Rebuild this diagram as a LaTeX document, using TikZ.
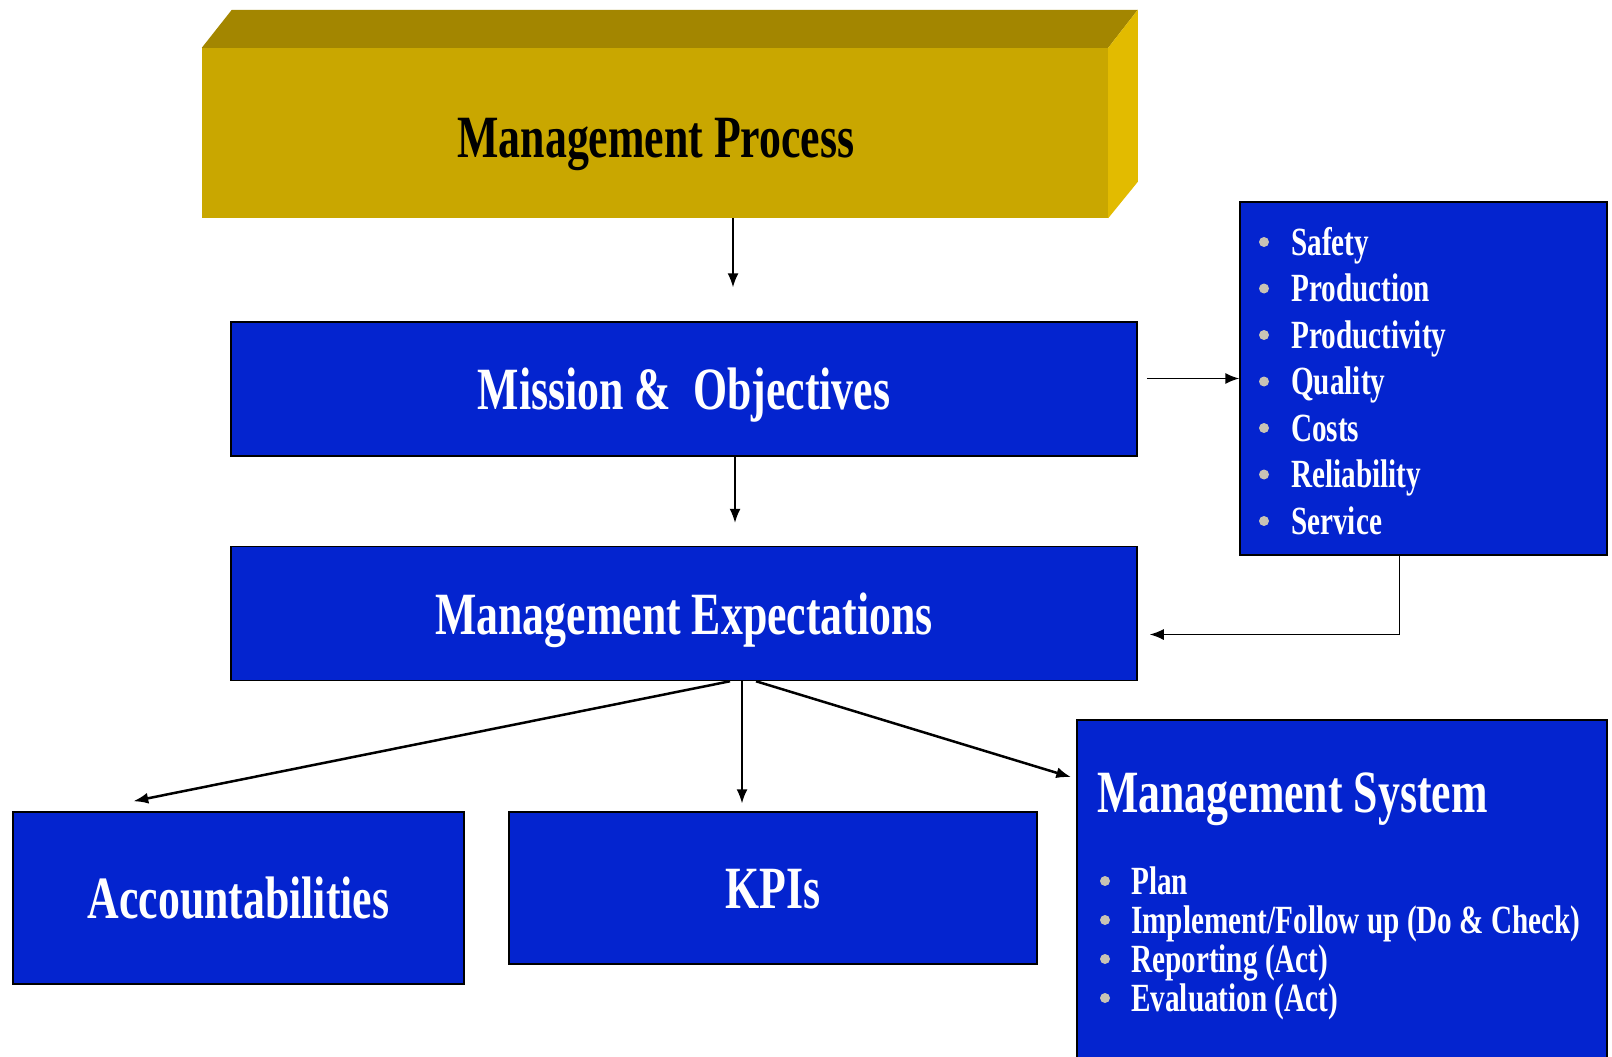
\documentclass[tikz,border=0pt]{standalone}
\usepackage{fontspec}
\usetikzlibrary{arrows.meta,positioning,calc}
\newfontfamily\boxfont[FakeStretch=0.73]{Liberation Serif Bold}

\definecolor{mblue}{RGB}{4,36,207}
\definecolor{goldtop}{RGB}{163,134,0}
\definecolor{goldfront}{RGB}{201,167,0}
\definecolor{goldside}{RGB}{226,187,0}
\definecolor{dotgrey}{RGB}{200,195,181}

\tikzset{
	bluebox/.style={draw=black, line width=1.5pt, fill=mblue, text=white, inner sep=0pt,
		text height=41pt, text depth=0pt, font=\boxfont\fontsize{60}{66}\selectfont},
	listitem/.style={anchor=base west, text=white, inner sep=0pt,
		font=\boxfont\fontsize{40}{44}\selectfont},
	flowarrow/.style={line width=1.5pt, -{Latex[length=14pt,width=11pt]}},
	fanarrow/.style={line width=2.5pt, -{Latex[length=15pt,width=11pt]}}
}

\begin{document}
\begin{tikzpicture}[x=1pt, y=-1pt]
	\useasboundingbox (0,0) rectangle (1612,1057);

	% gold block
	\node[fill=goldfront, minimum width=906, minimum height=170, inner sep=0pt] (mproc) at (655,133) {};
	\fill[goldtop] (mproc.north west) --++ (30,-38) --++ (906,0) coordinate (mtr) -- (mproc.north east) -- cycle;
	\fill[goldside] (mproc.north east) -- (mtr) --++ (0,172) -- (mproc.south east) -- cycle;
	\node[font=\boxfont\fontsize{60}{66}\selectfont, inner sep=0pt, text height=41pt, text depth=0pt]
		at ($(mproc.center)+(1,4)$) {Management Process};

	\node[bluebox, minimum width=906, minimum height=134] (mission) at (684,389) {Mission \&\ \ Objectives};
	\node[bluebox, minimum width=906, minimum height=134, below=89pt of mission] (expect) {Management Expectations};

	\node[bluebox, minimum width=367, minimum height=353] (targets) at (1423.5,378.5) {};

	\node[bluebox, minimum width=451, minimum height=172] (acc) at (238.5,898) {Accountabilities};
	\node[bluebox, minimum width=528, minimum height=152] (kpi) at (773,888) {KPIs};
	\node[bluebox, minimum width=530, minimum height=345] (msys) at (1342,892.5) {};

	% list of targets
	\foreach \txt [count=\i from 0] in {Safety,Production,Productivity,Quality,Costs,Reliability,Service} {
		\fill[dotgrey] (1264,{242+46.5*\i}) circle (5pt);
		\node[listitem] at (1291,{255+46.5*\i}) {\txt};
	}

	% management system
	\node[listitem, font=\boxfont\fontsize{60}{66}\selectfont] (mstitle) at (1097,812) {Management System};
	\foreach \txt [count=\i from 0] in {Plan,{Implement/Follow up (Do \& Check)},{Reporting (Act)},{Evaluation (Act)}} {
		\fill[dotgrey] (1105,{881+39*\i}) circle (5pt);
		\node[listitem] at (1131,{894+39*\i}) {\txt};
	}

	% connectors
	\draw[flowarrow, shorten >=34pt] ($(mproc.south)+(78,0)$) -- ($(mission.north)+(49,0)$);
	\draw[flowarrow, shorten >=23pt] ($(mission.south)+(51,0)$) -- ($(expect.north)+(51,0)$);
	\draw[flowarrow, shorten <=9pt] (mission.east |- targets.west) -- (targets.west);
	\draw[flowarrow, shorten >=12pt] ($(targets.south)+(-24,0)$) |- ($(expect.east)+(0,21)$);

	\coordinate (fan) at ($(expect.south)+(58,0)$);
	\draw[fanarrow] ($(fan)+(-12,0)$) -- ($(acc.north west)+(121,-10)$);
	\draw[flowarrow, shorten >=8pt] (fan) -- (fan |- kpi.north);
	\draw[fanarrow] ($(fan)+(14,0)$) -- ($(msys.north west)+(-5,58)$);

\end{tikzpicture}
\end{document}
